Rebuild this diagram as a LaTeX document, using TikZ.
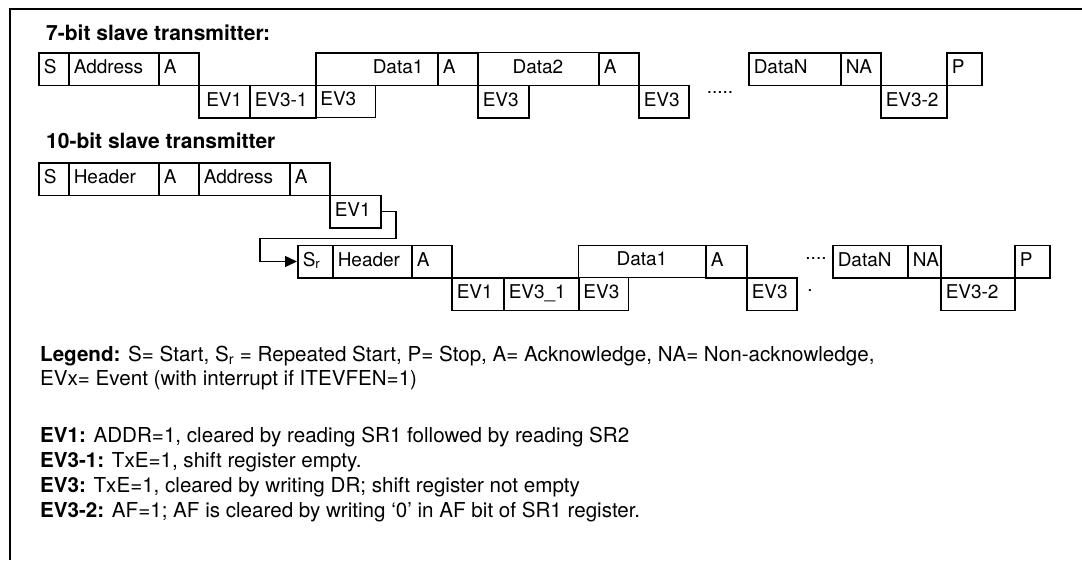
\documentclass[tikz,border=0pt]{standalone}
\usepackage{fontspec}
\setmainfont{TeX Gyre Heros}
\usepackage{tikz}
\usetikzlibrary{arrows.meta, positioning}

\begin{document}
\begin{tikzpicture}[x=1pt, y=-1pt,
  cell/.style={draw, line width=1.5pt, anchor=north west, minimum height=32.5pt,
               inner xsep=5pt, inner ysep=0pt, text height=13.5pt, text depth=4pt,
               text width=#1, align=left, font=\fontsize{19}{22}\selectfont},
  faint/.style={line width=0.8pt},
  heading/.style={anchor=base west, inner sep=0pt, font=\fontsize{21}{24}\selectfont\bfseries},
  legendtxt/.style={anchor=base west, inner sep=0pt, font=\fontsize{20.6}{24}\selectfont},
  dots/.style={anchor=base, inner sep=0pt, font=\fontsize{19}{22}\selectfont},
]
  \useasboundingbox (0,0) rectangle (1082,560);
  \draw[line width=2pt] (1082,8.6) -- (9.6,8.6) -- (9.6,560);

  % 7-bit
  \node[heading] (t7) at (46,40) {7-bit slave transmitter:};
  \node[cell=20pt] (s7) at (38,52) {S};
  \node[cell=80pt] (addr7) at (68,52) {Address};
  \node[cell=30pt] (a7) at (158,52) {A};
  \node[cell=112pt] (data7a) at (315,52) {\hspace*{52pt}Data1};
  \node[cell=30pt] (a7b) at (437,52) {A};
  \node[cell=111pt, align=center, faint] (data7b) at (477,52) {Data2};
  \node[cell=30pt] (a7c) at (598,52) {A};
  \node[cell=82pt] (datan7) at (748,52) {DataN};
  \node[cell=30pt] (na7) at (840,52) {NA};
  \node[cell=25pt] (p7) at (946,52) {P};

  \node[cell=41pt, align=center] (ev1s) at (198,84.5) {EV1};
  \node[cell=56pt] (ev31s) at (249,84.5) {EV3-1};
  \node[cell=50pt, faint] (ev3s1) at (315,84.5) {EV3};
  \node[cell=41pt] (ev3s2) at (477,84.5) {EV3};
  \node[cell=40pt] (ev3s3) at (638,84.5) {EV3};
  \node[cell=56pt] (ev32s) at (880,84.5) {EV3-2};
  \node[dots] (more7) at (720,93) {.....};

  % 10-bit
  \node[heading] (t10) at (46,148) {10-bit slave transmitter};
  \node[cell=20pt] (s10) at (38,162) {S};
  \node[cell=80pt] (hdr10) at (68,162) {Header};
  \node[cell=30pt] (a10) at (158,162) {A};
  \node[cell=81pt] (addr10) at (198,162) {Address};
  \node[cell=30pt] (a10b) at (289,162) {A};
  \node[cell=41pt] (ev1t) at (329,194.5) {EV1};

  \node[cell=25pt] (sr) at (297,244.5) {S\textsubscript{r}};
  \node[cell=69pt] (hdr10b) at (332,244.5) {Header};
  \node[cell=30pt] (a10c) at (411,244.5) {A};
  \node[cell=117pt, align=center, faint] (data10a) at (578,244.5) {Data1};
  \node[cell=31pt] (a10d) at (705,244.5) {A};
  \node[cell=65pt] (datan10) at (832,244.5) {DataN};
  \node[cell=23pt] (na10) at (907,244.5) {NA};
  \node[cell=25pt] (p10) at (1014,244.5) {P};

  \node[cell=42pt] (ev1u) at (451,277) {EV1};
  \node[cell=65pt] (ev31u) at (503,277) {EV3\_1};
  \node[cell=40pt, faint] (ev3u1) at (578,277) {EV3};
  \node[cell=40pt] (ev3u2) at (746,277) {EV3};
  \node[cell=64pt] (ev32u) at (940,277) {EV3-2};
  \node[dots] (more10) at (816,259) {....};
  \node[dots] (more10b) at (810,291) {.};

  \coordinate (bendR) at (396,238.5);
  \coordinate (bendL) at (260,238.5);
  \draw[line width=1.5pt, -{Triangle[length=12pt,width=11pt]}]
    (ev1t.east) -| (bendR) -- (bendL) |- (sr.west);

  % legend
  \node[legendtxt] (leg1) at (40,361) {\textbf{Legend:} S= Start, S\textsubscript{r} = Repeated Start, P= Stop, A= Acknowledge, NA= Non-acknowledge,};
  \node[legendtxt] (leg2) at (40,385) {EVx= Event (with interrupt if ITEVFEN=1)};
  \node[legendtxt] (ev1def) at (40,442) {\textbf{EV1:} ADDR=1, cleared by reading SR1 followed by reading SR2};
  \node[legendtxt] (ev31def) at (40,467) {\textbf{EV3-1:} TxE=1, shift register empty.};
  \node[legendtxt] (ev3def) at (40,492) {\textbf{EV3:} TxE=1, cleared by writing DR; shift register not empty};
  \node[legendtxt] (ev32def) at (40,517) {\textbf{EV3-2:} AF=1; AF is cleared by writing ‘0’ in AF bit of SR1 register.};
\end{tikzpicture}
\end{document}
